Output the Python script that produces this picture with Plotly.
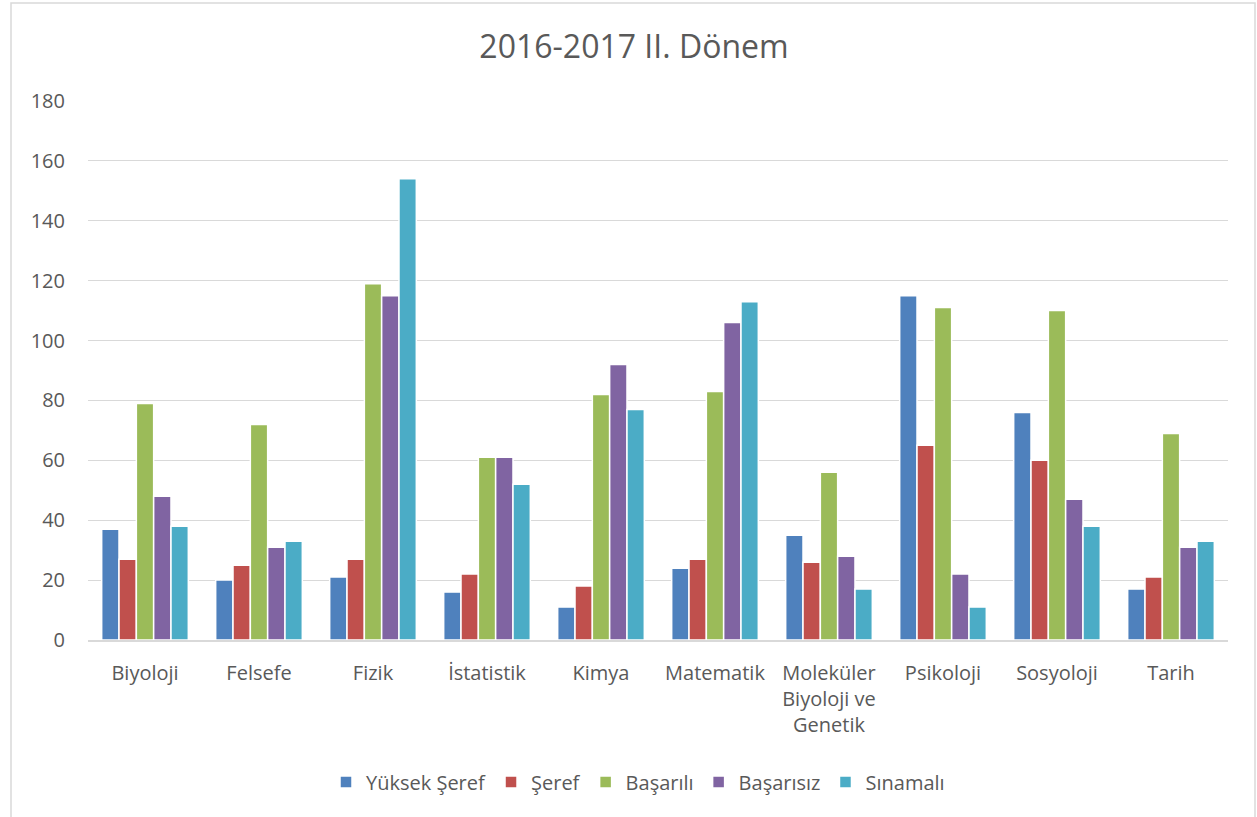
import plotly.graph_objects as go

categories = ["Biyoloji", "Felsefe", "Fizik", "İstatistik", "Kimya", "Matematik",
              "Moleküler<br>Biyoloji ve<br>Genetik", "Psikoloji", "Sosyoloji", "Tarih"]
yuksek_seref = [37, 20, 21, 16, 11, 24, 35, 115, 76, 17]
seref = [27, 25, 27, 22, 18, 27, 26, 65, 60, 21]
basarili = [79, 72, 119, 61, 82, 83, 56, 111, 110, 69]
basarisiz = [48, 31, 115, 61, 92, 106, 28, 22, 47, 31]
sinamali = [38, 33, 154, 52, 77, 113, 17, 11, 38, 33]
y_ticks = [0, 20, 40, 60, 80, 100, 120, 140, 160, 180]

series = [
    ("Yüksek Şeref", yuksek_seref, "#4F81BD"),
    ("Şeref", seref, "#C0504D"),
    ("Başarılı", basarili, "#9BBB59"),
    ("Başarısız", basarisiz, "#8064A2"),
    ("Sınamalı", sinamali, "#4BACC6"),
]

font_family = "Open Sans, Lato, Liberation Sans, sans-serif"
fig = go.Figure()
for name, vals, color in series:
    fig.add_trace(go.Bar(name=name, x=categories, y=vals,
                         marker=dict(color=color, line=dict(color="white", width=1.5))))

W, H = 1257, 817
L, R, T, B = 88, 29, 101, 177
pw, ph = W - L - R, H - T - B

fig.update_layout(
    width=W, height=H,
    margin=dict(l=L, r=R, t=T, b=B),
    paper_bgcolor="white", plot_bgcolor="white",
    barmode="group", bargap=0.24, bargroupgap=0,
    font=dict(family=font_family, color="#595959", size=20),
    title=dict(text="2016-2017 II. Dönem", x=634 / W, xref="container", xanchor="center",
               y=1 - 47 / H, yref="container", yanchor="middle",
               font=dict(size=32, color="#595959", family=font_family)),
    legend=dict(orientation="h", x=638 / W, xref="container", xanchor="center",
                y=1 - 782 / H, yref="container", yanchor="middle",
                font=dict(size=20, color="#595959"), traceorder="normal", itemwidth=30),
    xaxis=dict(showgrid=False, showline=True, linecolor="#d9d9d9", linewidth=1.5,
               ticks="", ticklabelstandoff=14, tickfont=dict(size=20, color="#595959")),
    yaxis=dict(range=[0, 180], tickvals=y_ticks, showgrid=True, gridcolor="#d9d9d9",
               gridwidth=1.3, zeroline=False, showline=False, ticks="",
               ticklabelstandoff=22, tickfont=dict(size=20, color="#595959")),
    shapes=[dict(type="rect", xref="paper", yref="paper",
                 x0=(11 - L) / pw, x1=(1255 - L) / pw,
                 y0=(640 - 818) / ph, y1=(640 - 3) / ph,
                 line=dict(color="#d9d9d9", width=1.5), fillcolor="rgba(0,0,0,0)", layer="below")],
)

fig.write_html("out.html", config={"displayModeBar": False},
               post_script="document.body.style.margin='0';document.body.style.overflow='hidden';")
